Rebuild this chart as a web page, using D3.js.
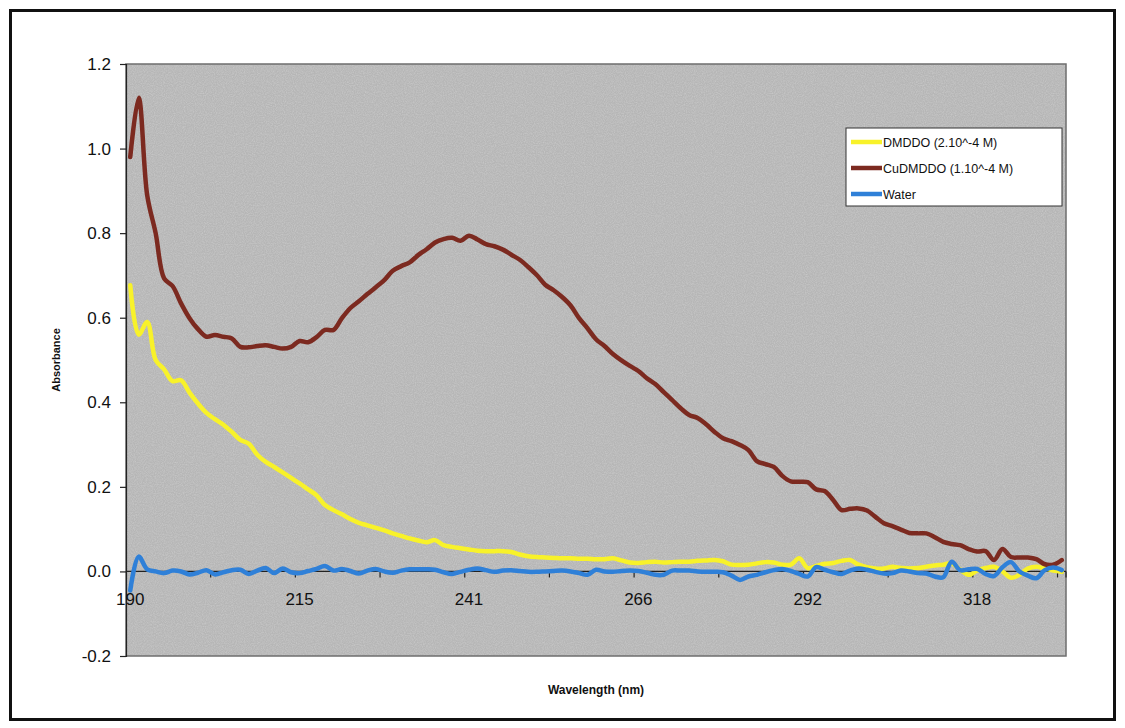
<!DOCTYPE html>
<html>
<head>
<meta charset="utf-8">
<script src="https://cdn.jsdelivr.net/npm/d3@7"></script>
<style>
  html, body { margin: 0; padding: 0; background: #ffffff; }
  svg { display: block; }
  text { font-family: "Liberation Sans", Arial, sans-serif; fill: #111; }
</style>
</head>
<body>
<svg id="chart" width="1125" height="728"></svg>
<script>
// Wavelength categories (nm), one per spectrum reading
const wavelengths = [
  190.00, 191.28, 192.56, 193.84, 195.12, 196.40, 197.68, 198.96, 200.24, 201.52,
  202.80, 204.08, 205.36, 206.64, 207.92, 209.20, 210.48, 211.76, 213.04, 214.32,
  215.60, 216.88, 218.16, 219.44, 220.72, 222.00, 223.28, 224.56, 225.84, 227.12,
  228.40, 229.68, 230.96, 232.24, 233.52, 234.80, 236.08, 237.36, 238.64, 239.92,
  241.20, 242.48, 243.76, 245.04, 246.32, 247.60, 248.88, 250.16, 251.44, 252.72,
  254.00, 255.28, 256.56, 257.84, 259.12, 260.40, 261.68, 262.96, 264.24, 265.52,
  266.80, 268.08, 269.36, 270.64, 271.92, 273.20, 274.48, 275.76, 277.04, 278.32,
  279.60, 280.88, 282.16, 283.44, 284.72, 286.00, 287.28, 288.56, 289.84, 291.12,
  292.40, 293.68, 294.96, 296.24, 297.52, 298.80, 300.08, 301.36, 302.64, 303.92,
  305.20, 306.48, 307.76, 309.04, 310.32, 311.60, 312.88, 314.16, 315.44, 316.72,
  318.00, 319.28, 320.56, 321.84, 323.12, 324.40, 325.68, 326.96, 328.24, 329.52,
  330.80
];

// Absorbance of the free ligand
const dmddo = [
  0.677, 0.560, 0.590, 0.500, 0.478, 0.450, 0.452, 0.423, 0.397, 0.375,
  0.360, 0.347, 0.330, 0.311, 0.302, 0.276, 0.259, 0.247, 0.234, 0.221,
  0.208, 0.194, 0.180, 0.157, 0.145, 0.135, 0.124, 0.115, 0.109, 0.103,
  0.097, 0.090, 0.084, 0.078, 0.073, 0.069, 0.074, 0.062, 0.058, 0.055,
  0.052, 0.049, 0.048, 0.048, 0.048, 0.046, 0.040, 0.036, 0.034, 0.033,
  0.032, 0.031, 0.031, 0.030, 0.030, 0.029, 0.029, 0.031, 0.026, 0.021,
  0.020, 0.022, 0.023, 0.021, 0.022, 0.023, 0.023, 0.025, 0.026, 0.027,
  0.024, 0.016, 0.015, 0.016, 0.019, 0.022, 0.021, 0.016, 0.016, 0.031,
  0.008, 0.013, 0.018, 0.020, 0.025, 0.027, 0.016, 0.010, 0.007, 0.007,
  0.011, 0.008, 0.007, 0.008, 0.011, 0.014, 0.016, 0.019, 0.004, -0.008,
  0.002, 0.008, 0.011, 0.000, -0.015, -0.008, 0.007, 0.011, 0.007, 0.002,
  -0.001
];

// Absorbance of the copper complex
const cuDmddo = [
  0.980, 1.120, 0.890, 0.800, 0.693, 0.675, 0.634, 0.599, 0.573, 0.555,
  0.559, 0.555, 0.551, 0.531, 0.530, 0.533, 0.535, 0.531, 0.527, 0.531,
  0.545, 0.542, 0.554, 0.571, 0.571, 0.599, 0.623, 0.639, 0.656, 0.672,
  0.689, 0.711, 0.722, 0.731, 0.748, 0.762, 0.778, 0.786, 0.789, 0.782,
  0.794, 0.785, 0.774, 0.769, 0.761, 0.749, 0.737, 0.720, 0.701, 0.678,
  0.665, 0.649, 0.629, 0.599, 0.575, 0.549, 0.533, 0.514, 0.499, 0.486,
  0.474, 0.457, 0.443, 0.424, 0.405, 0.386, 0.370, 0.363, 0.348, 0.330,
  0.315, 0.308, 0.299, 0.287, 0.261, 0.254, 0.247, 0.226, 0.213, 0.212,
  0.211, 0.194, 0.190, 0.169, 0.145, 0.148, 0.149, 0.144, 0.129, 0.114,
  0.107, 0.099, 0.091, 0.090, 0.090, 0.081, 0.070, 0.065, 0.062, 0.053,
  0.047, 0.048, 0.027, 0.053, 0.034, 0.033, 0.033, 0.029, 0.017, 0.016,
  0.027
];

// Solvent blank
const water = [
  -0.045, 0.035, 0.005, 0.000, -0.004, 0.002, 0.000, -0.007, -0.003, 0.003,
  -0.007, -0.002, 0.003, 0.004, -0.006, 0.002, 0.008, -0.004, 0.007, -0.002,
  -0.004, 0.001, 0.006, 0.013, 0.002, 0.006, 0.001, -0.005, 0.002, 0.006,
  0.000, -0.003, 0.002, 0.005, 0.005, 0.005, 0.004, -0.002, -0.006, -0.001,
  0.004, 0.007, 0.003, -0.001, 0.002, 0.003, 0.001, -0.001, -0.001, 0.000,
  0.001, 0.002, 0.000, -0.004, -0.008, 0.004, 0.000, -0.001, 0.001, 0.002,
  0.001, -0.003, -0.008, -0.008, 0.002, 0.002, 0.002, 0.000, -0.001, -0.001,
  -0.002, -0.010, -0.020, -0.012, -0.008, -0.002, 0.003, 0.006, 0.001, -0.006,
  -0.012, 0.010, 0.004, -0.002, -0.006, 0.002, 0.007, 0.004, -0.001, -0.005,
  -0.004, 0.002, 0.000, -0.004, -0.005, -0.012, -0.014, 0.023, 0.003, 0.005,
  0.006, -0.006, -0.011, 0.010, 0.022, 0.000, -0.010, -0.016, 0.003, 0.009,
  0.003
];

const seriesNames = ["DMDDO (2.10^-4 M)", "CuDMDDO (1.10^-4 M)", "Water"];
const seriesColors = ["#f8f22a", "#7c2a20", "#2f80d8"];
const xTickLabels = ["190", "215", "241", "266", "292", "318"];
const yTicks = [-0.2, 0.0, 0.2, 0.4, 0.6, 0.8, 1.0, 1.2];

const plot = { left: 126, right: 1066, top: 64, bottom: 656 };

const svg = d3.select("#chart");

// subtle grain on the plot area
const defs = svg.append("defs");
const grain = defs.append("filter").attr("id", "grain")
  .attr("x", 0).attr("y", 0).attr("width", "100%").attr("height", "100%");
grain.append("feTurbulence").attr("type", "fractalNoise")
  .attr("baseFrequency", 0.9).attr("numOctaves", 2).attr("seed", 3).attr("result", "noise");
grain.append("feColorMatrix").attr("in", "noise").attr("type", "matrix")
  .attr("values", "0 0 0 0 1  0 0 0 0 1  0 0 0 0 1  0 0 0 -1.1 0.75").attr("result", "speck");
grain.append("feComposite").attr("in", "speck").attr("in2", "SourceGraphic").attr("operator", "in");

// outer frame
svg.append("rect")
  .attr("x", 10.5).attr("y", 10.5).attr("width", 1104).attr("height", 709)
  .attr("fill", "#fff").attr("stroke", "#111").attr("stroke-width", 3);

const x = d3.scaleBand().domain(wavelengths).range([plot.left, plot.right]).padding(0);
const xc = w => x(w) + x.bandwidth() / 2;
const y = d3.scaleLinear().domain([-0.2, 1.2]).range([plot.bottom, plot.top]);

// plot area
svg.append("rect")
  .attr("x", plot.left).attr("y", plot.top)
  .attr("width", plot.right - plot.left).attr("height", plot.bottom - plot.top)
  .attr("fill", "#b6b6b6");
svg.append("rect")
  .attr("x", plot.left).attr("y", plot.top)
  .attr("width", plot.right - plot.left).attr("height", plot.bottom - plot.top)
  .attr("fill", "#b6b6b6").attr("filter", "url(#grain)").attr("opacity", 0.35);
svg.append("rect")
  .attr("x", plot.left).attr("y", plot.top)
  .attr("width", plot.right - plot.left).attr("height", plot.bottom - plot.top)
  .attr("fill", "none").attr("stroke", "#6e6e6e").attr("stroke-width", 1.5);

// y axis
const yAxis = d3.axisLeft(y).tickValues(yTicks).tickFormat(d => d.toFixed(1))
  .tickSize(6).tickPadding(9);
const gy = svg.append("g").attr("transform", `translate(${plot.left},0)`).call(yAxis);
gy.select(".domain").attr("stroke", "#222").attr("stroke-width", 1.2);
gy.selectAll(".tick line").attr("stroke", "#222").attr("stroke-width", 1.2);
gy.selectAll(".tick text").attr("font-size", 17).attr("fill", "#111")
  .attr("font-family", "'Liberation Sans', Arial, sans-serif");

// category axis crossing at zero absorbance
const y0 = y(0);
svg.append("line")
  .attr("x1", plot.left).attr("x2", plot.right).attr("y1", y0).attr("y2", y0)
  .attr("stroke", "#222").attr("stroke-width", 1.2);
const tickBounds = wavelengths.filter((d, i) => i % 10 === 0 && i > 0);
svg.append("g").selectAll("line").data(tickBounds).join("line")
  .attr("x1", d => x(d)).attr("x2", d => x(d))
  .attr("y1", y0).attr("y2", y0 + 6)
  .attr("stroke", "#222").attr("stroke-width", 1.2);
svg.append("line")
  .attr("x1", plot.right).attr("x2", plot.right).attr("y1", y0).attr("y2", y0 + 6)
  .attr("stroke", "#222").attr("stroke-width", 1.2);

const labelled = wavelengths.filter((d, i) => i % 20 === 0);
const xAxis = d3.axisBottom(x).tickValues(labelled)
  .tickFormat((d, i) => xTickLabels[i]).tickSize(0).tickPadding(22);
const gx = svg.append("g").attr("transform", `translate(0,${y0})`).call(xAxis);
gx.select(".domain").remove();
gx.selectAll(".tick text").attr("font-size", 17).attr("fill", "#111")
  .attr("font-family", "'Liberation Sans', Arial, sans-serif");

// spectra, drawn as smoothed lines
const seriesData = [dmddo, cuDmddo, water];
const line = d3.line()
  .x((d, i) => xc(wavelengths[i]))
  .y(d => y(d))
  .curve(d3.curveCatmullRom.alpha(0.5));
svg.append("g").selectAll("path").data(seriesData).join("path")
  .attr("d", d => line(d))
  .attr("fill", "none")
  .attr("stroke", (d, i) => seriesColors[i])
  .attr("stroke-width", 4.5)
  .attr("stroke-linejoin", "round")
  .attr("stroke-linecap", "round");

// axis titles
svg.append("text")
  .attr("x", (plot.left + plot.right) / 2).attr("y", 694)
  .attr("text-anchor", "middle").attr("font-size", 12).attr("font-weight", "bold")
  .text("Wavelength (nm)");
svg.append("text")
  .attr("transform", `translate(60,${(plot.top + plot.bottom) / 2}) rotate(-90)`)
  .attr("text-anchor", "middle").attr("font-size", 11).attr("font-weight", "bold")
  .text("Absorbance");

// legend
const lg = svg.append("g").attr("transform", "translate(846,128)");
lg.append("rect").attr("x", 0).attr("y", 0).attr("width", 216).attr("height", 78)
  .attr("fill", "#fff").attr("stroke", "#333").attr("stroke-width", 1);
const rows = lg.selectAll("g").data(seriesNames).join("g")
  .attr("transform", (d, i) => `translate(0,${14 + i * 26})`);
rows.append("line").attr("x1", 5).attr("x2", 36).attr("y1", 0).attr("y2", 0)
  .attr("stroke", (d, i) => seriesColors[i]).attr("stroke-width", 4.5);
rows.append("text").attr("x", 37).attr("y", 4.5).attr("font-size", 12.5).text(d => d);
</script>
</body>
</html>
